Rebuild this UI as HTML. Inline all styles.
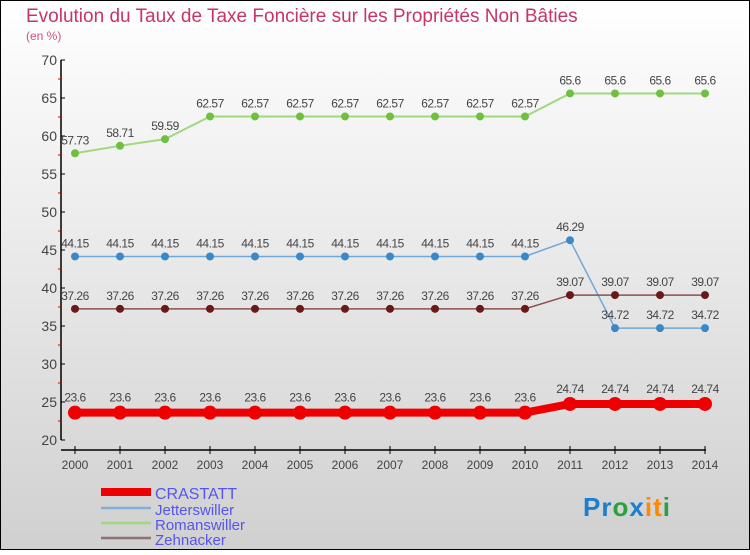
<!DOCTYPE html>
<html><head><meta charset="utf-8"><style>
html,body{margin:0;padding:0}
body{width:750px;height:550px;overflow:hidden;font-family:"Liberation Sans",sans-serif}
svg text{font-family:"Liberation Sans",sans-serif}
</style></head><body>
<svg width="750" height="550" xmlns="http://www.w3.org/2000/svg">
<defs><linearGradient id="bg" x1="0" y1="0" x2="0" y2="1"><stop offset="0" stop-color="#ffffff"/><stop offset="1" stop-color="#d0d0d0"/></linearGradient></defs>
<rect x="0.5" y="0.5" width="749" height="549" fill="url(#bg)" stroke="#000"/>
<text x="26" y="22" font-size="19" fill="#c8346a" font-weight="300">Evolution du Taux de Taxe Foncière sur les Propriétés Non Bâties</text>
<text x="26" y="40" font-size="12" fill="#d0507a">(en %)</text>
<g id="axes"></g><g id="series"></g>
<g>
<line x1="101" y1="492" x2="151" y2="492" stroke="#ee0000" stroke-width="8"/>
<text x="155" y="499" font-size="16" fill="#5555ee">CRASTATT</text>
<line x1="101" y1="508" x2="151" y2="508" stroke="#7fb0d8" stroke-width="2.5"/>
<text x="155" y="515" font-size="15" fill="#5555ee">Jetterswiller</text>
<line x1="101" y1="523" x2="151" y2="523" stroke="#a0d880" stroke-width="2.5"/>
<text x="155" y="530" font-size="15" fill="#5555ee">Romanswiller</text>
<line x1="101" y1="538" x2="151" y2="538" stroke="#907070" stroke-width="2.5"/>
<text x="155" y="545" font-size="15" fill="#5555ee">Zehnacker</text>
</g>
<text x="583" y="516" font-size="26" font-weight="bold" letter-spacing="1"><tspan fill="#1a7fd0">Pr</tspan><tspan fill="#2aa040">o</tspan><tspan fill="#1a7fd0">x</tspan><tspan fill="#ff8800">i</tspan><tspan fill="#ff8800">t</tspan><tspan fill="#2aa040">i</tspan></text>
</svg>
<script>
const years=[2000,2001,2002,2003,2004,2005,2006,2007,2008,2009,2010,2011,2012,2013,2014];
const crastatt=[23.6,23.6,23.6,23.6,23.6,23.6,23.6,23.6,23.6,23.6,23.6,24.74,24.74,24.74,24.74];
const jetterswiller=[44.15,44.15,44.15,44.15,44.15,44.15,44.15,44.15,44.15,44.15,44.15,46.29,34.72,34.72,34.72];
const romanswiller=[57.73,58.71,59.59,62.57,62.57,62.57,62.57,62.57,62.57,62.57,62.57,65.6,65.6,65.6,65.6];
const zehnacker=[37.26,37.26,37.26,37.26,37.26,37.26,37.26,37.26,37.26,37.26,37.26,39.07,39.07,39.07,39.07];
const yTicks=[20,25,30,35,40,45,50,55,60,65,70];
const NS="http://www.w3.org/2000/svg";
const x=i=>75+i*45, y=v=>440-(v-20)*7.6;
function mk(p,t,a){const e=document.createElementNS(NS,t);for(const k in a)e.setAttribute(k,a[k]);p.appendChild(e);return e;}
const ax=document.getElementById('axes');
let yl=mk(ax,'line',{x1:61,y1:60,x2:61,y2:440,stroke:'#000','stroke-width':1.5});


let xl=mk(ax,'line',{x1:61,y1:450,x2:706,y2:450,stroke:'#000','stroke-width':1.5});


yTicks.forEach((t,i)=>{
 mk(ax,'line',{x1:61,y1:y(t),x2:65,y2:y(t),stroke:'#000'});
 if(i<yTicks.length-1)mk(ax,'line',{x1:58,y1:y(t+2.5),x2:61,y2:y(t+2.5),stroke:'#d00'});
 const tx=mk(ax,'text',{x:57,y:y(t)+5,'text-anchor':'end','font-size':14,fill:'#444'});
 
 
 tx.textContent=t;
});
years.forEach((yr,i)=>{
 mk(ax,'line',{x1:x(i),y1:446,x2:x(i),y2:454,stroke:'#000'});
 const tx=mk(ax,'text',{x:x(i),y:469,'text-anchor':'middle','font-size':12,fill:'#444'});
 
 
 tx.textContent=yr;
});
const sg=document.getElementById('series');
function series(name,vals,color,dot,w,r){
 const g=mk(sg,'g',{});
 
 
 const pl=mk(g,'polyline',{points:vals.map((v,i)=>x(i)+','+y(v)).join(' '),fill:'none',stroke:color,'stroke-width':w});
 
 
 vals.forEach((v,i)=>{
  const c=mk(g,'circle',{cx:x(i),cy:y(v),r:r,fill:dot});
  
  
  const t=mk(g,'text',{x:x(i),y:y(v)-9-(r>5?2:0),'text-anchor':'middle','font-size':12,fill:'#444','letter-spacing':'-0.5'});
  
  
  t.textContent=v;
 });
}
series('romanswiller',romanswiller,'#a0d880','#70c040',2,4);
series('jetterswiller',jetterswiller,'#6fa8d8','#3a88c8',1.5,4);
series('zehnacker',zehnacker,'#8a5050','#6a1818',1.5,4);
series('crastatt',crastatt,'#ee0000','#ee0000',8,7);
</script>
</body></html>
